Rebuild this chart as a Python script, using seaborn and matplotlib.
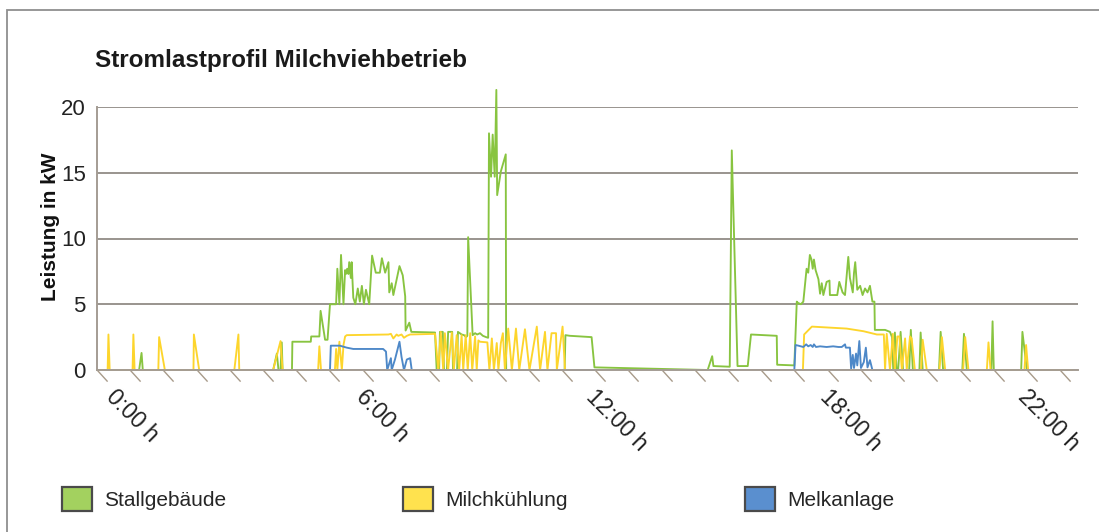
import numpy as np
import pandas as pd
import matplotlib
matplotlib.use("Agg")
import matplotlib.pyplot as plt
from matplotlib.patches import Patch, Rectangle
from matplotlib.path import Path
import matplotlib.transforms as mtransforms
import seaborn as sns

sns.set_style("white")
plt.rcParams['font.family'] = ['Liberation Sans', 'DejaVu Sans']

# Stallgebäude (Stunde, kW)
stall_h = [0.00, 1.03, 1.09, 1.12, 4.31, 4.40, 4.44, 4.49, 4.52, 4.54, 4.77, 4.78,
           5.23, 5.24, 5.44, 5.47, 5.58, 5.64, 5.70, 5.85, 5.88, 5.93, 5.97, 6.03,
           6.07, 6.09, 6.12, 6.15, 6.17, 6.21, 6.23, 6.27, 6.32, 6.38, 6.43, 6.48,
           6.53, 6.58, 6.66, 6.73, 6.82, 6.92, 6.97, 7.05, 7.13, 7.15, 7.21, 7.25,
           7.40, 7.48, 7.54, 7.55, 7.64, 7.69, 8.27, 8.31, 8.37, 8.39, 8.46, 8.49,
           8.56, 8.59, 8.69, 8.71, 8.81, 8.83, 8.92, 8.98, 9.03, 9.06, 9.08, 9.19,
           9.25, 9.30, 9.37, 9.44, 9.52, 9.57, 9.59, 9.64, 9.68, 9.73, 9.77, 9.79,
           9.88, 10.00, 10.01, 11.44, 11.46, 11.57, 12.10, 12.17, 13.53, 14.90, 14.94, 15.05,
           15.08, 15.48, 15.53, 15.67, 15.92, 16.00, 16.63, 16.64, 17.06, 17.12, 17.15, 17.22,
           17.28, 17.36, 17.40, 17.44, 17.48, 17.51, 17.54, 17.58, 17.65, 17.69, 17.73, 17.77,
           17.85, 17.92, 17.93, 18.11, 18.16, 18.24, 18.30, 18.38, 18.42, 18.49, 18.52, 18.55,
           18.60, 18.67, 18.73, 18.79, 18.85, 18.91, 18.97, 19.02, 19.03, 19.28, 19.40, 19.45,
           19.48, 19.52, 19.56, 19.60, 19.66, 19.72, 19.87, 19.91, 19.96, 20.12, 20.15, 20.20,
           20.60, 20.64, 20.70, 21.17, 21.21, 21.28, 21.88, 21.91, 21.94, 22.61, 22.64, 22.75,
           23.85]
stall_kw = [0, 0, 1.3, 0, 0, 1.25, 0, 0, 2.1, 0, 0, 2.15,
            2.15, 2.55, 2.55, 4.5, 2.3, 2.3, 5.0, 5.0, 7.7, 5.0, 8.75, 5.0,
            7.6, 7.3, 7.7, 7.3, 8.2, 7.0, 8.2, 5.5, 5.0, 6.2, 5.2, 6.4,
            5.0, 6.1, 5.0, 8.7, 7.4, 7.4, 8.5, 7.4, 8.2, 5.9, 6.6, 5.7,
            7.9, 7.2, 5.6, 3.0, 3.6, 2.9, 2.85, 0, 0, 2.9, 2.9, 0,
            0, 2.9, 2.9, 0, 0, 2.9, 2.7, 2.65, 2.5, 2.6, 10.1, 2.65,
            2.8, 2.7, 2.8, 2.6, 2.5, 2.45, 18.0, 14.7, 17.9, 14.7, 21.3, 13.3,
            15.1, 16.4, 0, 0, 2.65, 2.6, 2.5, 0.2, 0.1, 0, 0, 1.05,
            0.3, 0.25, 16.7, 0.3, 0.3, 2.7, 2.6, 0.4, 0.35, 5.2, 5.1, 5.0,
            5.2, 7.7, 7.4, 8.75, 8.4, 7.7, 8.4, 7.6, 6.9, 5.8, 6.6, 5.7,
            6.7, 6.8, 5.7, 5.7, 6.7, 5.9, 5.7, 8.6, 7.0, 5.9, 7.4, 8.2,
            6.1, 6.4, 5.7, 6.2, 5.9, 6.4, 5.2, 5.2, 3.05, 3.05, 2.9, 2.5,
            0, 2.85, 0, 0, 2.9, 0, 0, 3.05, 0, 0, 2.85, 0,
            0, 2.9, 0, 0, 2.75, 0, 0, 3.7, 0, 0, 2.9, 0,
            0]

# Milchkühlung, Vormittag und Abend
kuehl_am_h = [0.00, 0.26, 0.28, 0.31, 0.87, 0.89, 0.92, 1.50, 1.52, 1.66, 2.36, 2.37,
              2.50, 3.36, 3.46, 3.48, 4.31, 4.49, 4.54, 5.41, 5.44, 5.48, 5.82, 5.85,
              5.88, 5.93, 5.99, 6.03, 6.07, 6.11, 7.13, 7.19, 7.25, 7.33, 7.37, 7.45,
              7.51, 7.58, 7.66, 8.27, 8.35, 8.41, 8.47, 8.51, 8.59, 8.68, 8.73, 8.80,
              8.86, 8.92, 8.96, 9.02, 9.07, 9.13, 9.18, 9.25, 9.29, 9.33, 9.37, 9.55,
              9.60, 9.66, 9.71, 9.78, 9.82, 9.88, 9.93, 9.98, 10.06, 10.15, 10.25, 10.33,
              10.47, 10.58, 10.76, 10.84, 10.96, 11.02, 11.12, 11.23, 11.25, 11.39, 11.45]
kuehl_am_kw = [0, 0, 2.7, 0, 0, 2.7, 0, 0, 2.5, 0, 0, 2.7,
               0, 0, 2.7, 0, 0, 2.2, 0, 0, 1.8, 0, 0, 1.6,
               0, 2.15, 0, 1.9, 2.55, 2.65, 2.7, 2.75, 2.4, 2.7, 2.6, 2.7,
               2.45, 2.6, 2.7, 2.75, 0, 2.9, 0, 2.8, 0, 2.85, 0, 2.65,
               0, 2.65, 0, 2.65, 0, 2.8, 0, 2.55, 0, 2.25, 2.15, 2.1,
               0, 2.4, 0, 2.05, 0, 2.05, 2.8, 0, 3.15, 0, 3.15, 0,
               3.1, 0, 3.3, 0, 2.9, 0, 2.8, 2.8, 0, 3.3, 0]
kuehl_pm_h = [17.27, 17.30, 17.49, 18.34, 18.75, 19.08, 19.25, 19.28, 19.32, 19.40, 19.47, 19.52,
              19.58, 19.63, 19.69, 19.77, 19.81, 19.89, 19.93, 20.01, 20.16, 20.20, 20.30, 20.61,
              20.67, 20.75, 21.19, 21.24, 21.32, 21.77, 21.81, 21.86, 22.69, 22.73, 22.78, 23.85]
kuehl_pm_kw = [0, 2.7, 3.3, 3.15, 2.95, 2.7, 2.7, 0, 2.75, 0, 2.75, 0,
               2.55, 2.55, 0, 2.4, 0, 2.55, 2.4, 0, 0, 2.3, 0, 0,
               2.5, 0, 0, 2.5, 0, 0, 2.1, 0, 0, 1.9, 0, 0]

# Melkanlage, Morgen- und Abendmelken
melk_am_h = [5.70, 5.72, 5.94, 6.11, 6.27, 7.00, 7.07, 7.10, 7.19, 7.21, 7.29, 7.40,
             7.45, 7.51, 7.58, 7.66, 7.70, 12.16]
melk_am_kw = [0, 1.85, 1.85, 1.7, 1.6, 1.6, 1.4, 0, 0.9, 0, 0.8, 2.15,
              1.0, 0, 0.8, 0.9, 0, 0]
melk_pm_h = [17.06, 17.09, 17.16, 17.28, 17.35, 17.40, 17.46, 17.51, 17.54, 17.59, 17.69, 17.85,
             18.01, 18.14, 18.22, 18.30, 18.32, 18.42, 18.45, 18.49, 18.52, 18.57, 18.60, 18.65,
             18.69, 18.76, 18.81, 18.85, 18.91, 18.97, 19.16]
melk_pm_kw = [0, 1.9, 1.85, 1.75, 1.95, 1.8, 1.9, 1.75, 1.95, 1.75, 1.8, 1.75,
              1.8, 1.75, 1.75, 1.95, 1.7, 1.7, 0.1, 1.15, 0.15, 1.25, 0.35, 2.2,
              0.15, 0.6, 1.7, 0.2, 0.75, 0, 0]

serien = ['Stallgebäude', 'Milchkühlung', 'Melkanlage']
farben = {'Stallgebäude': '#88c440', 'Milchkühlung': '#fdd52c', 'Melkanlage': '#4d88c8'}
legende_farben = {'Stallgebäude': '#a3d15f', 'Milchkühlung': '#ffe24e', 'Melkanlage': '#5a8fcf'}

x_labels = ['0:00 h', '6:00 h', '12:00 h', '18:00 h', '22:00 h']
x_label_pos = [0.50, 6.63, 12.24, 17.97, 22.82]
y_ticks = [0, 5, 10, 15, 20]

teile = [
    ('Stallgebäude', 'a', stall_h, stall_kw),
    ('Milchkühlung', 'a', kuehl_am_h, kuehl_am_kw),
    ('Milchkühlung', 'b', kuehl_pm_h, kuehl_pm_kw),
    ('Melkanlage', 'a', melk_am_h, melk_am_kw),
    ('Melkanlage', 'b', melk_pm_h, melk_pm_kw),
]
df = pd.concat([pd.DataFrame({'Stunde': h, 'kW': kw, 'Serie': s, 'Teil': t})
                for s, t, h, kw in teile], ignore_index=True)

fig = plt.figure(figsize=(10.99, 5.32), dpi=100)
ax = fig.add_axes([97 / 1099, 1 - 370 / 532, 981 / 1099, 263 / 532])

# Linien, Reihenfolge wie in der Legende (blau oben)
for s in serien:
    sns.lineplot(data=df[df['Serie'] == s], x='Stunde', y='kW', units='Teil',
                 estimator=None, sort=False, color=farben[s], lw=1.35,
                 legend=False, ax=ax)
for line in ax.lines:
    line.set_clip_on(False)

ax.set_xlim(0, 24)
ax.set_ylim(0, 20)
ax.set_yticks(y_ticks)
ax.set_xticks(x_label_pos)
ax.set_xticklabels(x_labels, rotation=-45, ha='left', va='top',
                   rotation_mode='anchor')
ax.tick_params(axis='x', length=0, pad=11, labelsize=16.5, labelcolor='#222222')
ax.tick_params(axis='y', length=0, pad=8, labelsize=16, labelcolor='#222222')
ax.set_xlabel('')
ax.set_ylabel('Leistung in kW', fontsize=15, fontweight='bold', color='#111111',
              va='center')
ax.yaxis.set_label_coords(-0.047, 0.545)

ax.yaxis.grid(True, color='#99948e', lw=1.4)
ax.set_axisbelow(True)
for side in ['top', 'right']:
    ax.spines[side].set_visible(False)
for side in ['left', 'bottom']:
    ax.spines[side].set_color('#a49c94')
    ax.spines[side].set_linewidth(1.4)

# schräge Teilstriche an der Zeitachse
strich = Path([(0, 0), (1, -1.1)], [Path.MOVETO, Path.LINETO])
trans = mtransforms.blended_transform_factory(ax.transData, ax.transAxes)
strich_pos = np.arange(30) * 0.8125
ax.plot(strich_pos, np.zeros_like(strich_pos), ls='none', marker=strich, ms=16,
        mfc='none', mec='#a89b8a', mew=1.0, transform=trans, clip_on=False)

fig.text(95 / 1099, 1 - 61 / 532, 'Stromlastprofil Milchviehbetrieb',
         fontsize=17.5, fontweight='bold', color='#1a1a1a', ha='left', va='center')

handles = [Patch(facecolor=legende_farben[s], edgecolor='#4a4a4a', linewidth=1.6, label=s)
           for s in serien]
fig.legend(handles=handles, loc='center left', bbox_to_anchor=(62 / 1099, 1 - 499 / 532),
           ncol=3, frameon=False, fontsize=15, handlelength=1.42, handleheight=1.4,
           handletextpad=0.6, columnspacing=8.5, borderaxespad=0, borderpad=0)

fig.add_artist(Rectangle((7 / 1099, -0.1), 1.2, 1.1 - 10 / 532, transform=fig.transFigure,
                         fill=False, edgecolor='#8f8f8f', lw=1.3))

fig.savefig('out.png', dpi=100)
